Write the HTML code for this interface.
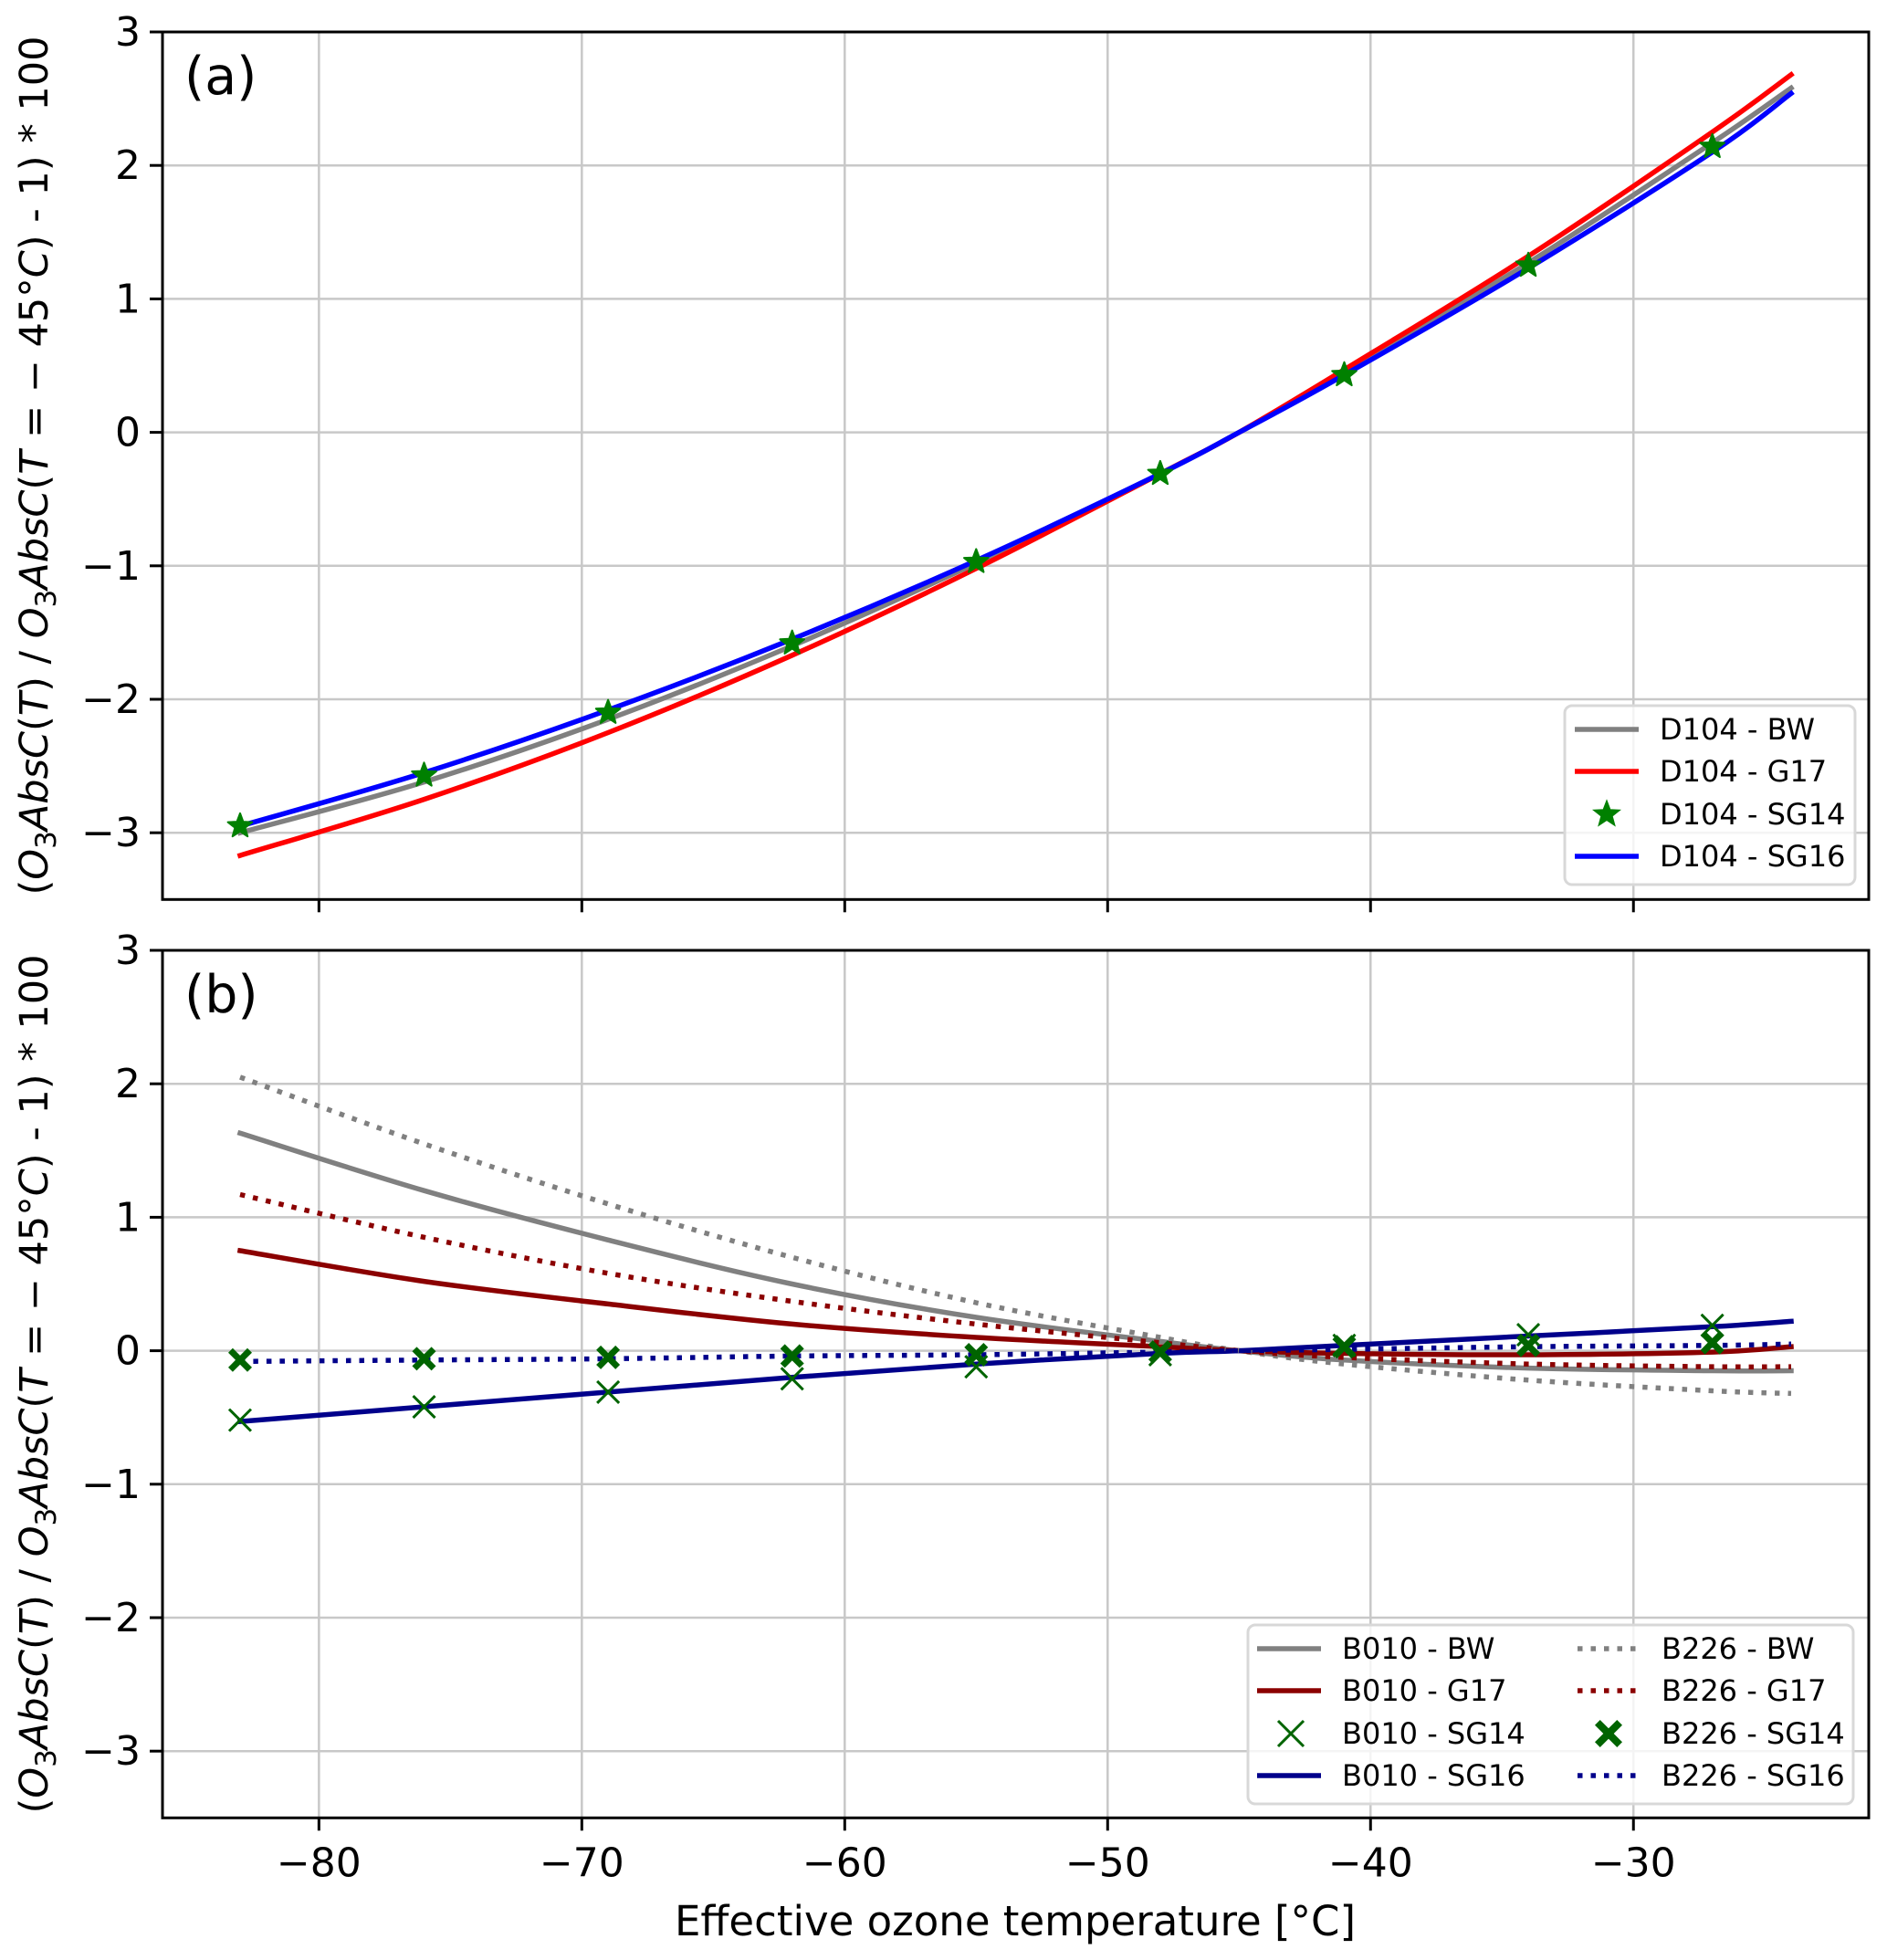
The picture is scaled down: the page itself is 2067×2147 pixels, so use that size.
<!DOCTYPE html>
<html><head><meta charset="utf-8"><style>
body{margin:0;background:#fff}
svg{display:block;font-family:"DejaVu Sans","Liberation Sans",sans-serif}
</style></head><body>
<svg id="chart" width="2067" height="2147" viewBox="0 0 2067 2147" xmlns="http://www.w3.org/2000/svg">
<g id="panelA"></g>
<g id="panelB"></g>
<text x="1112" y="2120" font-size="45" text-anchor="middle">Effective ozone temperature [°C]</text>
<text transform="translate(52,510) rotate(-90)" font-size="43" text-anchor="middle">(<tspan font-style="italic">O</tspan><tspan font-size="31" dy="9">3</tspan><tspan dy="-9" font-style="italic">AbsC</tspan>(<tspan font-style="italic">T</tspan>) / <tspan font-style="italic">O</tspan><tspan font-size="31" dy="9">3</tspan><tspan dy="-9" font-style="italic">AbsC</tspan>(<tspan font-style="italic">T</tspan> = − 45°<tspan font-style="italic">C</tspan>) - 1) * 100</text>
<text transform="translate(52,1516) rotate(-90)" font-size="43" text-anchor="middle">(<tspan font-style="italic">O</tspan><tspan font-size="31" dy="9">3</tspan><tspan dy="-9" font-style="italic">AbsC</tspan>(<tspan font-style="italic">T</tspan>) / <tspan font-style="italic">O</tspan><tspan font-size="31" dy="9">3</tspan><tspan dy="-9" font-style="italic">AbsC</tspan>(<tspan font-style="italic">T</tspan> = − 45°<tspan font-style="italic">C</tspan>) - 1) * 100</text>
</svg>
<script>
const xTicks=[-80,-70,-60,-50,-40,-30];
const yTicks=[-3,-2,-1,0,1,2,3];
const lineT=[-83,-76,-69,-62,-55,-48,-45,-41,-34,-27,-24];
const markT=[-83,-76,-69,-62,-55,-48,-41,-34,-27];
// panel a
const aBW=[-3.0,-2.62,-2.15,-1.6,-0.98,-0.31,0,0.45,1.27,2.17,2.58];
const aG17=[-3.17,-2.75,-2.25,-1.67,-1.02,-0.31,0,0.47,1.32,2.25,2.68];
const aSG16=[-2.95,-2.55,-2.08,-1.55,-0.96,-0.31,0,0.43,1.23,2.1,2.54];
const aSG14=[-2.95,-2.57,-2.1,-1.58,-0.97,-0.31,0.43,1.25,2.14];
// panel b
const bBW010=[1.63,1.2,0.83,0.5,0.25,0.07,0,-0.07,-0.13,-0.15,-0.15];
const bG17010=[0.75,0.52,0.35,0.2,0.1,0.03,0,-0.02,-0.03,-0.01,0.03];
const bSG16010=[-0.53,-0.42,-0.31,-0.2,-0.1,-0.02,0,0.04,0.11,0.18,0.22];
const bSG14010=[-0.52,-0.42,-0.31,-0.21,-0.12,-0.03,0.04,0.12,0.19];
const bBW226=[2.05,1.55,1.1,0.7,0.36,0.1,0,-0.1,-0.22,-0.3,-0.32];
const bG17226=[1.17,0.85,0.58,0.37,0.2,0.06,0,-0.05,-0.1,-0.12,-0.12];
const bSG16226=[-0.08,-0.07,-0.06,-0.04,-0.03,-0.01,0,0.01,0.03,0.04,0.05];
const bSG14226=[-0.07,-0.06,-0.05,-0.04,-0.03,-0.01,0.03,0.04,0.06];

const NS='http://www.w3.org/2000/svg';
const L=178,R=2047,X0=-85.95,X1=-21.05;
function xs(v){return L+(v-X0)/(X1-X0)*(R-L);}
function mk(tag,attrs,parent){const e=document.createElementNS(NS,tag);for(const k in attrs)e.setAttribute(k,attrs[k]);parent.appendChild(e);return e;}
function star(cx,cy,r){let p=[];for(let i=0;i<10;i++){const a=-Math.PI/2+i*Math.PI/5;const rr=i%2?r*0.42:r;p.push((cx+rr*Math.cos(a)).toFixed(1)+','+(cy+rr*Math.sin(a)).toFixed(1));}return p.join(' ');}
function fatX(cx,cy,s){const w=s*0.38;const pts=[[-s,-s+w],[-s+w,-s],[0,-w],[s-w,-s],[s,-s+w],[w,0],[s,s-w],[s-w,s],[0,w],[-s+w,s],[-s,s-w],[-w,0]];return pts.map(p=>(cx+p[0]).toFixed(1)+','+(cy+p[1]).toFixed(1)).join(' ');}

function panel(g,top,label,showX){
  const bot=top+6.5*146.2;
  const ys=v=>top+(3-v)*146.2;
  for(const t of xTicks){
    const gl=mk('line',{x1:xs(t),x2:xs(t),y1:top,y2:bot,stroke:'#c8c8c8','stroke-width':2.5},g);
    
    const tk=mk('line',{x1:xs(t),x2:xs(t),y1:bot,y2:bot+14,stroke:'#000','stroke-width':3},g);
    
    if(showX){
    const tl=mk('text',{x:xs(t),y:bot+64,'font-size':44,'text-anchor':'middle'},g);
    
    tl.textContent='−'+Math.abs(t);}
  }
  for(const t of yTicks){
    const gl=mk('line',{x1:L,x2:R,y1:ys(t),y2:ys(t),stroke:'#c8c8c8','stroke-width':2.5},g);
    
    const tk=mk('line',{x1:L-14,x2:L,y1:ys(t),y2:ys(t),stroke:'#000','stroke-width':3},g);
    
    const tl=mk('text',{x:L-24,y:ys(t)+15,'font-size':44,'text-anchor':'end'},g);
    
    tl.textContent=t<0?'−'+Math.abs(t):String(t);
  }
  const pl=mk('text',{x:L+24,y:top+68,'font-size':57},g);
  
  pl.textContent=label;
  return {ys,bot};
}
function smoothPath(pts){
  let d='M'+pts[0][0].toFixed(1)+','+pts[0][1].toFixed(1);
  for(let i=0;i<pts.length-1;i++){
    const p0=pts[i-1]||pts[i],p1=pts[i],p2=pts[i+1],p3=pts[i+2]||p2;
    const c1=[p1[0]+(p2[0]-p0[0])/6,p1[1]+(p2[1]-p0[1])/6];
    const c2=[p2[0]-(p3[0]-p1[0])/6,p2[1]-(p3[1]-p1[1])/6];
    d+=` C${c1[0].toFixed(1)},${c1[1].toFixed(1)} ${c2[0].toFixed(1)},${c2[1].toFixed(1)} ${p2[0].toFixed(1)},${p2[1].toFixed(1)}`;
  }
  return d;
}
function line(g,arr,ys,color,dash,name){
  const pts=arr.map((v,i)=>[xs(lineT[i]),ys(v)]);
  const p=mk('path',{d:smoothPath(pts),fill:'none',stroke:color,'stroke-width':5.5,'stroke-dasharray':dash?'5.5,9':'none','stroke-linecap':dash?'butt':'square'},g);
  
}
function frame(g,top,bot){
  const f=mk('rect',{x:L,y:top,width:R-L,height:bot-top,fill:'none',stroke:'#000','stroke-width':3},g);
  
}
function legendBox(g,x,y,w,h){
  const b=mk('rect',{x:x,y:y,width:w,height:h,rx:8,fill:'rgba(255,255,255,0.8)',stroke:'#d8d8d8','stroke-width':3},g);
  
}
function legText(g,x,y,t){const e=mk('text',{x:x,y:y+11,'font-size':32},g);e.textContent=t;}
function legLine(g,x,y,color,dash){const e=mk('line',{x1:x,x2:x+70,y1:y,y2:y,stroke:color,'stroke-width':5.5,'stroke-dasharray':dash?'5.5,9':'none'},g);}

// Panel A
const gA=document.getElementById('panelA');
const A=panel(gA,35,'(a)',false);
line(gA,aBW,A.ys,'#808080',false,'line-d104-bw');
line(gA,aG17,A.ys,'#ff0000',false,'line-d104-g17');
line(gA,aSG16,A.ys,'#0000ff',false,'line-d104-sg16');
aSG14.forEach((v,i)=>{const s=mk('polygon',{points:star(xs(markT[i]),A.ys(v),14),fill:'#008000',stroke:'#008000','stroke-width':2,'stroke-linejoin':'round'},gA);

});
frame(gA,35,A.bot);
legendBox(gA,1714,773,318,196);
legLine(gA,1725,799,'#808080');legText(gA,1818,799,'D104 - BW');
legLine(gA,1725,845,'#ff0000');legText(gA,1818,845,'D104 - G17');
{const s=mk('polygon',{points:star(1760,892,14),fill:'#008000',stroke:'#008000','stroke-width':2},gA);}
legText(gA,1818,892,'D104 - SG14');
legLine(gA,1725,938,'#0000ff');legText(gA,1818,938,'D104 - SG16');

// Panel B
const gB=document.getElementById('panelB');
const B=panel(gB,1041,'(b)',true);
line(gB,bBW010,B.ys,'#808080',false,'line-b010-bw');
line(gB,bG17010,B.ys,'#8b0000',false,'line-b010-g17');
line(gB,bSG16010,B.ys,'#00008b',false,'line-b010-sg16');
line(gB,bBW226,B.ys,'#808080',true,'line-b226-bw');
line(gB,bG17226,B.ys,'#8b0000',true,'line-b226-g17');
line(gB,bSG16226,B.ys,'#00008b',true,'line-b226-sg16');
bSG14010.forEach((v,i)=>{const cx=xs(markT[i]),cy=B.ys(v);const p=mk('path',{d:`M${cx-12},${cy-12}L${cx+12},${cy+12}M${cx+12},${cy-12}L${cx-12},${cy+12}`,stroke:'#006400','stroke-width':3,fill:'none'},gB);

});
bSG14226.forEach((v,i)=>{const p=mk('polygon',{points:fatX(xs(markT[i]),B.ys(v),13),fill:'#006400'},gB);

});
frame(gB,1041,B.bot);
legendBox(gB,1367,1780,663,196);
const rows=[1806,1852,1899,1945];
legLine(gB,1377,rows[0],'#808080');legText(gB,1470,rows[0],'B010 - BW');
legLine(gB,1377,rows[1],'#8b0000');legText(gB,1470,rows[1],'B010 - G17');
{const p=mk('path',{d:`M1400,${rows[2]-14}L1428,${rows[2]+14}M1428,${rows[2]-14}L1400,${rows[2]+14}`,stroke:'#006400','stroke-width':3},gB);}
legText(gB,1470,rows[2],'B010 - SG14');
legLine(gB,1377,rows[3],'#00008b');legText(gB,1470,rows[3],'B010 - SG16');
legLine(gB,1728,rows[0],'#808080',true);legText(gB,1820,rows[0],'B226 - BW');
legLine(gB,1728,rows[1],'#8b0000',true);legText(gB,1820,rows[1],'B226 - G17');
{const p=mk('polygon',{points:fatX(1762,rows[2],15),fill:'#006400'},gB);}
legText(gB,1820,rows[2],'B226 - SG14');
legLine(gB,1728,rows[3],'#00008b',true);legText(gB,1820,rows[3],'B226 - SG16');
</script>
</body></html>
